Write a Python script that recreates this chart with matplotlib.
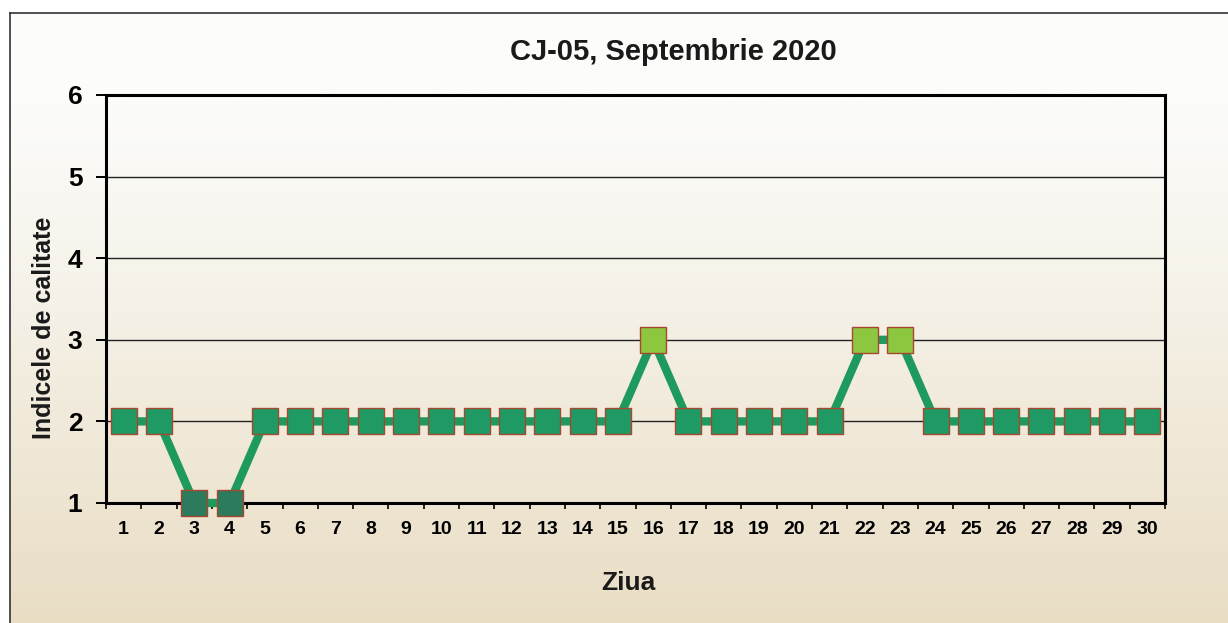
import numpy as np
import matplotlib
matplotlib.use("Agg")
import matplotlib.pyplot as plt

# ---- data ----
days = list(range(1, 31))
day_labels = [str(d) for d in days]
index_values = [2, 2, 1, 1, 2, 2, 2, 2, 2, 2, 2, 2, 2, 2, 2,
                3, 2, 2, 2, 2, 2, 3, 3, 2, 2, 2, 2, 2, 2, 2]
y_ticks = [1, 2, 3, 4, 5, 6]
title = "CJ-05, Septembrie 2020"
xlabel = "Ziua"
ylabel = "Indicele de calitate"

level_colors = {1: "#2b7b5c", 2: "#1f9a64", 3: "#8dc63f"}
line_color = "#1f9a5e"
edge_color = "#a8472f"

plt.rcParams['font.family'] = ['Liberation Sans', 'DejaVu Sans']

W, H = 1228, 623
fig = plt.figure(figsize=(W / 100, H / 100), dpi=100)
fig.patch.set_facecolor("white")

# ---- background gradient inside the frame ----
bg = fig.add_axes([0, 0, 1, 1], zorder=-10)
bg.set_xlim(0, W)
bg.set_ylim(H, 0)
bg.axis("off")
ys = np.linspace(0, 1, 300)
top = np.array([252, 252, 250]) / 255
bot = np.array([233, 221, 196]) / 255
t = np.clip((ys - 0.15) / 0.85, 0, 1) ** 1.1
grad = top[None, :] * (1 - t[:, None]) + bot[None, :] * t[:, None]
grad = np.repeat(grad[:, None, :], 2, axis=1)
bg.imshow(grad, extent=[10, W, H, 13], aspect="auto", zorder=0)
bg.plot([10, 10], [13, H], color="#333333", lw=1.2, zorder=1)
bg.plot([10, W], [13, 13], color="#333333", lw=1.2, zorder=1)

# ---- main axes ----
l, r, b, tpx = 106, 1165, 503, 95
ax = fig.add_axes([l / W, 1 - b / H, (r - l) / W, (b - tpx) / H])
ax.set_facecolor("none")
ax.set_xlim(0.5, 30.5)
ax.set_ylim(1, 6)

for yv in y_ticks[1:-1]:
    ax.axhline(yv, color="#222222", lw=1.0, zorder=1)

ax.plot(days, index_values, color=line_color, lw=6, zorder=5,
        solid_joinstyle="miter", clip_on=False)
for d, v in zip(days, index_values):
    ax.plot(d, v, marker="s", markersize=18.5, markerfacecolor=level_colors[v],
            markeredgecolor=edge_color, markeredgewidth=1.0, zorder=6,
            clip_on=False, linestyle="none")

for s in ax.spines.values():
    s.set_linewidth(2.2)
    s.set_color("black")
    s.set_zorder(4)

ax.set_yticks(y_ticks)
ax.set_yticklabels([str(v) for v in y_ticks], fontsize=19, fontweight="bold")
ax.tick_params(axis="y", length=7, width=1.4, pad=10, direction="out")

ax.set_xticks(np.arange(0.5, 31, 1.0))
ax.set_xticklabels([])
ax.tick_params(axis="x", which="major", length=4, width=1.2, direction="out")
ax.set_xticks(days, minor=True)
ax.set_xticklabels(day_labels, minor=True, fontsize=14, fontweight="bold")
ax.tick_params(axis="x", which="minor", length=0, pad=13)

fig.text(673 / W, 1 - 52 / H, title, ha="center", va="center",
         fontsize=21, fontweight="bold", color="#1a1a1a")
fig.text(628 / W, 1 - 583 / H, xlabel, ha="center", va="center",
         fontsize=19, fontweight="bold", color="#1a1a1a")
fig.text(44 / W, 1 - 328 / H, ylabel, ha="center", va="center",
         rotation=90, fontsize=18, fontweight="bold", color="#1a1a1a")

fig.savefig("out.png", dpi=100)
